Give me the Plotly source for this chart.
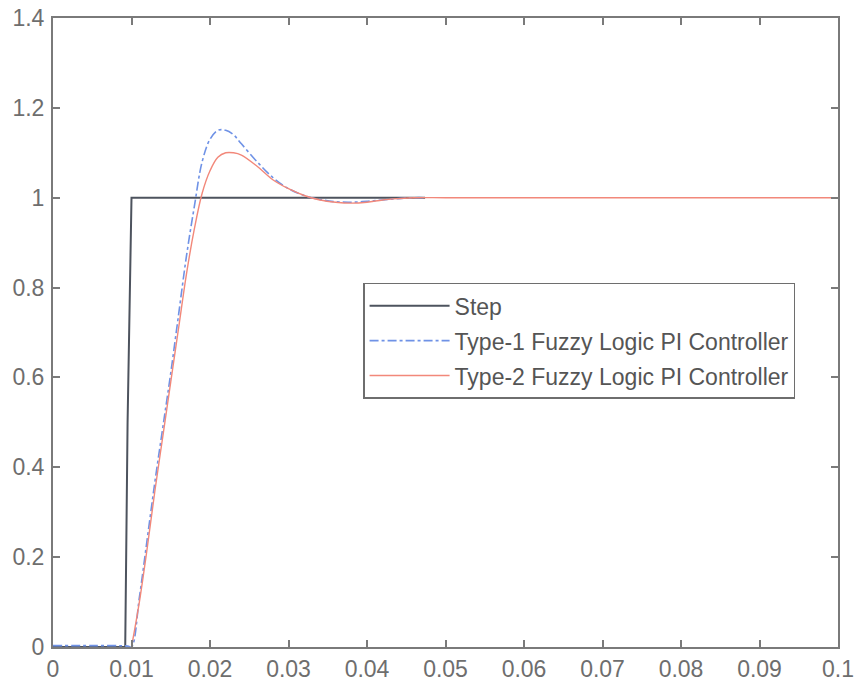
import plotly.graph_objects as go

# Step input
step_t = [0.0, 0.0092, 0.0095, 0.0100, 0.0474]
step_y = [0.0, 0.0, 0.5, 1.0, 1.0]

# Type-1 fuzzy logic PI controller response
t1_t = [0.0, 0.0050, 0.0095, 0.0100, 0.0110, 0.0120, 0.0130, 0.0140, 0.0150, 0.0160, 0.0170,
        0.0180, 0.0190, 0.0200, 0.0210, 0.0220, 0.0230, 0.0240, 0.0260, 0.0280,
        0.0300, 0.0320, 0.0340, 0.0360, 0.0380, 0.0400, 0.0420, 0.0440, 0.0460, 0.0474]
t1_y = [0.003, 0.003, 0.002, 0.0, 0.11, 0.24, 0.37, 0.49, 0.61, 0.74, 0.87,
        0.98, 1.08, 1.13, 1.15, 1.15, 1.14, 1.12, 1.08, 1.045,
        1.02, 1.005, 0.996, 0.991, 0.99, 0.992, 0.995, 0.998, 1.0, 1.0]

# Type-2 fuzzy logic PI controller response
t2_t = [0.0100, 0.0110, 0.0120, 0.0130, 0.0140, 0.0150, 0.0160, 0.0170,
        0.0180, 0.0190, 0.0200, 0.0210, 0.0220, 0.0230, 0.0240, 0.0260, 0.0280,
        0.0300, 0.0320, 0.0340, 0.0360, 0.0380, 0.0400, 0.0420, 0.0440, 0.0460,
        0.0500, 0.0600, 0.0700, 0.0800, 0.0900, 0.1000]
t2_y = [0.0, 0.10, 0.22, 0.35, 0.47, 0.59, 0.71, 0.83,
        0.93, 1.01, 1.06, 1.09, 1.10, 1.10, 1.095, 1.07, 1.04,
        1.02, 1.005, 0.995, 0.99, 0.988, 0.99, 0.995, 0.998, 1.0,
        1.0, 1.0, 1.0, 1.0, 1.0, 1.0]

x_ticks = [0, 0.01, 0.02, 0.03, 0.04, 0.05, 0.06, 0.07, 0.08, 0.09, 0.1]
y_ticks = [0, 0.2, 0.4, 0.6, 0.8, 1.0, 1.2, 1.4]

fig = go.Figure()
fig.add_trace(go.Scatter(x=step_t, y=step_y, mode="lines", name="Step", legendgroup="a",
                         line=dict(color="#4d535e", width=2)))
fig.add_trace(go.Scatter(x=t1_t, y=t1_y, mode="lines", name="Type-1 Fuzzy Logic PI Controller",
                         legendgroup="b",
                         line=dict(color="#6f92e6", width=1.6, dash="dashdot", shape="spline")))
fig.add_trace(go.Scatter(x=t2_t, y=t2_y, mode="lines", name="Type-2 Fuzzy Logic PI Controller",
                         legendgroup="c",
                         line=dict(color="#f2887a", width=1.4, shape="spline")))

axis_common = dict(showline=True, linecolor="#7a7a7a", linewidth=2, mirror="ticks",
                   ticks="inside", ticklen=7, tickcolor="#7a7a7a", tickwidth=1.5,
                   showgrid=False, zeroline=False, automargin=False,
                   tickfont=dict(family="Liberation Sans, Arial", size=23, color="#6e6e6e"))

fig.update_xaxes(range=[0, 0.1], tickvals=x_ticks, ticktext=[f"{v:g}" for v in x_ticks],
                 ticklabelstandoff=0, **axis_common)
fig.update_yaxes(range=[0, 1.4], tickvals=y_ticks, ticktext=[f"{v:g}" for v in y_ticks],
                 ticklabelstandoff=2, **axis_common)

fig.update_layout(
    width=856, height=686,
    margin=dict(l=53, r=18, t=18, b=39),
    paper_bgcolor="white", plot_bgcolor="white",
    showlegend=True,
    legend=dict(x=0.395, y=0.579, xanchor="left", yanchor="top",
                bgcolor="white", bordercolor="#6e6e6e", borderwidth=1.5,
                font=dict(family="Liberation Sans, Arial", size=23, color="#555555"),
                tracegroupgap=2, itemwidth=80),
)

fig.write_html("out.html")
